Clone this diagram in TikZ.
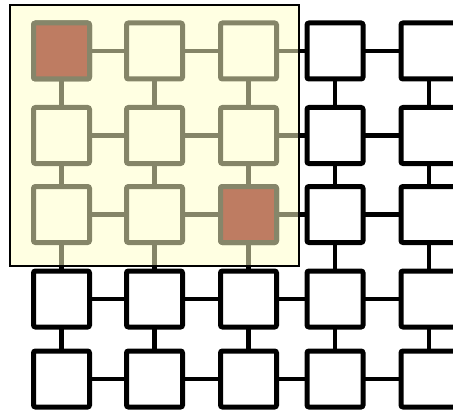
\documentclass[tikz,border=0pt]{standalone}
\definecolor{ovfill}{RGB}{255,255,200}
\definecolor{hotfill}{RGB}{190,124,98}
\definecolor{olive}{RGB}{134,134,106}
\tikzset{
  cell/.style={draw=black, fill=white, line width=5pt, rounded corners=2pt,
    minimum width=56pt, minimum height=56pt, inner sep=0pt, outer sep=0pt},
  hot/.style={draw=olive, fill=hotfill, line width=5pt, rounded corners=2pt,
    minimum width=56pt, minimum height=56pt, inner sep=0pt, outer sep=0pt},
  link/.style={draw=black, line width=4.5pt},
  overlay/.style={fill=ovfill, fill opacity=0.52, draw=black, draw opacity=1, line width=1.8pt}
}
\begin{document}
\begin{tikzpicture}[x=1pt,y=-1pt]
\useasboundingbox (0,0) rectangle (453,412);
\clip (0,0) rectangle (453,412);
\def\colx{{61.5,154.5,248.5,335,429}}
\def\rowy{{51,135.5,214.5,299,379}}
\foreach \r in {1,...,5}{
  \foreach \c in {1,...,5}{
    \pgfmathsetmacro{\xx}{\colx[\c-1]}
    \pgfmathsetmacro{\yy}{\rowy[\r-1]}
    \node[cell] (n\r\c) at (\xx,\yy) {};
  }
}
\begin{scope}[on background layer/.style={}]
\end{scope}
% connectors
\foreach \r in {1,...,5}{
  \foreach \c/\d in {1/2,2/3,3/4,4/5}{
    \draw[link] (n\r\c) -- (n\r\d);
  }
}
\foreach \c in {1,...,5}{
  \foreach \r/\s in {1/2,2/3,3/4,4/5}{
    \draw[link] (n\r\c) -- (n\s\c);
  }
}
% translucent highlight
\node[overlay, minimum width=289pt, minimum height=261pt, inner sep=0pt, outer sep=0pt, anchor=north west] (ov) at (10,5) {};
% highlighted cells
\node[hot] (h1) at (n11) {};
\node[hot] (h2) at (n33) {};
\end{tikzpicture}
\end{document}
